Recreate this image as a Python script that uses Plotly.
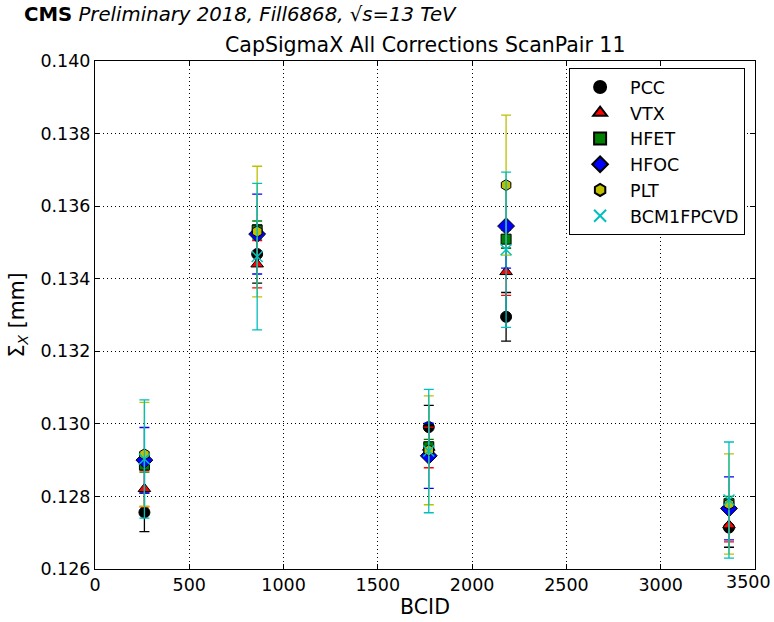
import plotly.graph_objects as go

bcid = [262, 860, 1770, 2180, 3362]

series_names = ["PCC", "VTX", "HFET", "HFOC", "PLT", "BCM1FPCVD"]

pcc_val = [0.12756, 0.13468, 0.12991, 0.13295, 0.12714]
pcc_err = [0.00053, 0.00080, 0.00060, 0.00067, 0.00054]

vtx_val = [0.12821, 0.13440, 0.12935, 0.13419, 0.12721]
vtx_err = [0.00050, 0.00065, 0.00056, 0.00065, 0.00046]

hfet_val = [0.12887, 0.13534, 0.12937, 0.13509, 0.12780]
hfet_err = [0.00020, 0.00025, 0.00020, 0.00025, 0.00020]

hfoc_val = [0.12900, 0.13523, 0.12912, 0.13545, 0.12767]
hfoc_err = [0.00090, 0.00110, 0.00090, 0.00116, 0.00087]

plt_val = [0.12916, 0.13530, 0.12927, 0.13658, 0.12779]
plt_err = [0.00143, 0.00180, 0.00150, 0.00193, 0.00138]

bcm_val = [0.12903, 0.13461, 0.12925, 0.13480, 0.12790]
bcm_err = [0.00163, 0.00202, 0.00170, 0.00214, 0.00160]

x_ticks = [0, 500, 1000, 1500, 2000, 2500, 3000, 3500]
x_ticklabels = ["0", "500", "1000", "1500", "2000", "2500", "3000", "3500"]

values = [pcc_val, vtx_val, hfet_val, hfoc_val, plt_val, bcm_val]
errors = [pcc_err, vtx_err, hfet_err, hfoc_err, plt_err, bcm_err]
colors = ["#000000", "#ff0000", "#008000", "#0000ff", "#bfbf00", "#00bfbf"]
symbols = ["circle", "triangle-up", "square", "diamond", "hexagon", "x-thin"]
sizes = [11, 11, 10, 13, 11, 11]

fig = go.Figure()
for name, v, e, c, s, sz in zip(series_names, values, errors, colors, symbols, sizes):
    is_x = s == "x-thin"
    fig.add_trace(go.Scatter(
        x=bcid, y=v, name=name, mode="markers",
        marker=dict(symbol=s, size=sz, color=c,
                    line=dict(color=c if is_x else "black", width=1.5 if is_x else 1)),
        error_y=dict(type="data", array=e, visible=True, color=c, thickness=1.3, width=5),
    ))

font = "DejaVu Sans"
tick_size = 17.5
axis_common = dict(
    showline=True, linecolor="black", linewidth=1, mirror="ticks",
    ticks="inside", ticklen=5, tickcolor="black",
    showgrid=True, gridcolor="black", griddash="1px,3px", gridwidth=1,
    zeroline=False, tickfont=dict(family=font, size=tick_size, color="black"),
    automargin=False,
)

# last x tick label is drawn as an annotation aligned to the page edge so it is not clipped
shown_labels = x_ticklabels[:-1] + [""]

fig.update_layout(
    width=774, height=622,
    margin=dict(l=95, r=19, t=61, b=53, autoexpand=False),
    paper_bgcolor="white", plot_bgcolor="white",
    font=dict(family=font, color="black", size=17),
    showlegend=True,
    legend=dict(x=0.985, y=0.986, xanchor="right", yanchor="top",
                bgcolor="white", bordercolor="black", borderwidth=1,
                font=dict(family=font, size=17.5, color="black"),
                itemsizing="constant", itemwidth=50, tracegroupgap=4),
    xaxis=dict(range=[0, 3500], tickmode="array", tickvals=x_ticks, ticktext=shown_labels,
               title=dict(text="BCID", font=dict(family=font, size=20.5), standoff=4), **axis_common),
    yaxis=dict(range=[0.126, 0.140], dtick=0.002, tickformat=".3f",
               title=dict(text="Σ<sub><i>X</i></sub> [mm]", font=dict(family=font, size=20.5), standoff=10), **axis_common),
    annotations=[
        dict(text="CapSigmaX All Corrections ScanPair 11", x=0.5, y=1.0, xref="paper", yref="paper",
             xanchor="center", yanchor="bottom", yshift=2, showarrow=False,
             font=dict(family=font, size=20.5, color="black")),
        dict(text="<b>CMS</b> <i>Preliminary 2018, Fill6868, √s=13 TeV</i>", x=(22 - 95) / 660, y=(569 - 15) / 508,
             xref="paper", yref="paper", showarrow=False, xanchor="left", yanchor="middle",
             font=dict(family=font, size=19.7, color="black")),
        dict(text=x_ticklabels[-1], x=(773 - 95) / 660, y=0, xref="paper", yref="paper",
             xanchor="right", yanchor="top", yshift=-1, showarrow=False,
             font=dict(family=font, size=tick_size, color="black")),
    ],
)

fig.write_html("out.html")
